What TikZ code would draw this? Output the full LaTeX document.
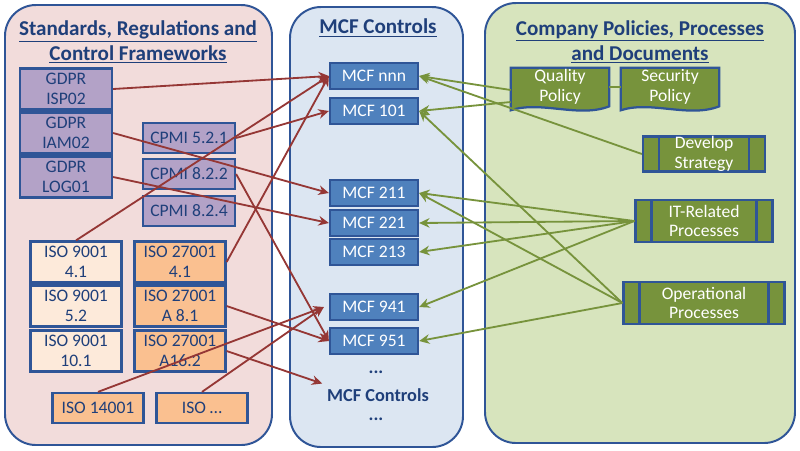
\documentclass[tikz,border=0pt]{standalone}
\usepackage{fontspec}
\setmainfont{Carlito}
\usetikzlibrary{arrows.meta,positioning}
\definecolor{panelline}{HTML}{2F5597}
\definecolor{titleblue}{HTML}{1F3F7A}
\definecolor{redline}{HTML}{953735}
\definecolor{greenfill}{HTML}{77933C}
\tikzstyle{panel}=[draw=panelline, line width=1.4pt, rounded corners=22pt]
\tikzstyle{title}=[font=\bfseries\fontsize{15}{18}\selectfont, text=titleblue, align=center]
\tikzstyle{box}=[draw=panelline, line width=1.6pt, align=center, inner sep=0pt, font=\fontsize{12.5}{14}\selectfont, text=titleblue]
\tikzstyle{gdpr}=[box, fill={rgb,255:red,179;green,162;blue,199}, minimum width=92*0.025cm, minimum height=41*0.025cm]
\tikzstyle{cpmi}=[box, fill={rgb,255:red,179;green,162;blue,199}, minimum width=92*0.025cm, minimum height=30*0.025cm]
\tikzstyle{isoA}=[box, fill={rgb,255:red,253;green,234;blue,218}, minimum width=91*0.025cm, minimum height=41*0.025cm]
\tikzstyle{isoB}=[box, fill={rgb,255:red,250;green,192;blue,144}, minimum width=91*0.025cm, minimum height=41*0.025cm]
\tikzstyle{mcf}=[box, fill={rgb,255:red,79;green,129;blue,189}, text=white, minimum width=88*0.025cm, minimum height=26*0.025cm]
\tikzstyle{doc}=[align=center, inner sep=0pt, text=white, font=\fontsize{12.5}{14}\selectfont, minimum width=98*0.025cm, minimum height=38*0.025cm]
\tikzstyle{process}=[box, fill=greenfill, text=white, path picture={
    \draw[panelline, line width=1.6pt] ([xshift=0.4cm]path picture bounding box.north west) -- ([xshift=0.4cm]path picture bounding box.south west);
    \draw[panelline, line width=1.6pt] ([xshift=-0.4cm]path picture bounding box.north east) -- ([xshift=-0.4cm]path picture bounding box.south east);}]
\tikzstyle{redArrow}=[redline, line width=1.3pt, -{Stealth[length=2.6mm,width=2.4mm,open]}]
\tikzstyle{greenArrow}=[greenfill, line width=1.3pt, -{Stealth[length=2.6mm,width=2.4mm,open]}]

\begin{document}
\begin{tikzpicture}[x=0.025cm, y=-0.025cm]
    \useasboundingbox (0,0) rectangle (800,450);
    % panels
    \draw[panel, fill={rgb,255:red,242;green,220;blue,219}] (5,5) rectangle (272,445);
    \draw[panel, fill={rgb,255:red,220;green,230;blue,242}] (290,7) rectangle (463,447);
    \draw[panel, fill={rgb,255:red,215;green,228;blue,189}] (485,3) rectangle (795,443);
    \node[title] (t1) at (138,42) {\underline{Standards, Regulations and}\\\underline{Control Frameworks}};
    \node[title] (t2) at (378,28) {\underline{MCF Controls}};
    \node[title] (t3) at (640,42) {\underline{Company Policies, Processes}\\\underline{and Documents}};

    % standards
    \node[gdpr] (isp) at (66,89) {GDPR\\ISP02};
    \node[gdpr] (iam) at (66,133) {GDPR\\IAM02};
    \node[gdpr] (log) at (66,177) {GDPR\\LOG01};
    \node[cpmi] (c521) at (189,138) {CPMI 5.2.1};
    \node[cpmi] (c822) at (189,174) {CPMI 8.2.2};
    \node[cpmi] (c824) at (189,211) {CPMI 8.2.4};
    \node[isoA] (q41) at (76,262) {ISO 9001\\4.1};
    \node[isoA] (q52) at (76,306) {ISO 9001\\5.2};
    \node[isoA] (q101) at (76,351) {ISO 9001\\10.1};
    \node[isoB] (s41) at (180,262) {ISO 27001\\4.1};
    \node[isoB] (s81) at (180,306) {ISO 27001\\A 8.1};
    \node[isoB] (s162) at (180,351) {ISO 27001\\A16.2};
    \node[isoB, minimum height=30*0.025cm] (e14) at (98,408) {ISO 14001};
    \node[isoB, minimum height=30*0.025cm] (eiso) at (202,408) {ISO \dots};

    % controls
    \node[mcf] (mnnn) at (374,76) {MCF nnn};
    \node[mcf] (m101) at (374,111) {MCF 101};
    \node[mcf] (m211) at (374,193) {MCF 211};
    \node[mcf] (m221) at (374,223) {MCF 221};
    \node[mcf] (m213) at (374,252) {MCF 213};
    \node[mcf] (m941) at (374,307) {MCF 941};
    \node[mcf] (m951) at (374,341) {MCF 951};
    \node[font=\bfseries\fontsize{13}{15}\selectfont, text=titleblue] (d1) at (376,372) {...};
    \node[font=\bfseries\fontsize{13}{15}\selectfont, text=titleblue] (mrest) at (378,395) {MCF Controls};
    \node[font=\bfseries\fontsize{13}{15}\selectfont, text=titleblue] (d2) at (376,419) {...};

    % documents and processes
    \node[doc] (qpol) at (560,87) {};
    \node[doc] (spol) at (670,87) {};
    \foreach \n in {qpol,spol}
        \draw[panelline, line width=1.6pt, fill=greenfill] (\n.north west) -- (\n.north east) -- (\n.south east)
            .. controls ([xshift=-30*0.025cm, yshift=-12*0.025cm]\n.south east) and ([xshift=30*0.025cm, yshift=6*0.025cm]\n.south west) .. ([yshift=-4*0.025cm]\n.south west) -- cycle;
    \node[doc] at (qpol) {Quality\\Policy};
    \node[doc] at (spol) {Security\\Policy};
    \draw[greenfill, line width=1.3pt] (qpol) -- (spol);
    \node[process, minimum width=122*0.025cm, minimum height=35*0.025cm] (dev) at (704,154) {Develop\\Strategy};
    \node[process, minimum width=137*0.025cm, minimum height=42*0.025cm] (itp) at (704,221) {IT-Related\\Processes};
    \node[process, minimum width=161*0.025cm, minimum height=42*0.025cm] (opp) at (704,303) {Operational\\Processes};

    % red mappings
    \draw[redArrow] (isp.east) -- (mnnn.west);
    \draw[redArrow] (iam.east) -- (m211.west);
    \draw[redArrow] (log.east) -- (m221.west);
    \draw[redArrow] (q41.north) -- (mnnn.west);
    \draw[redArrow] (c521.east) -- (m101.west);
    \draw[redArrow] (c822.east) -- (m951.west);
    \draw[redArrow] (s41.east) -- (mnnn.west);
    \draw[redArrow] (s81.east) -- (m951.west);
    \draw[redArrow] (s162.east) -- (mrest.north west);
    \draw[redArrow] (e14.north) -- ([xshift=-5*0.025cm]m941.west);
    \draw[redArrow] (eiso.north) -- ([xshift=-5*0.025cm]m941.west);

    % green mappings
    \draw[greenArrow] ([yshift=-3*0.025cm]qpol.west) -- (mnnn.east);
    \draw[greenArrow] ([yshift=-15*0.025cm]qpol.west) -- (m101.east);
    \draw[greenArrow] (dev.west) -- (mnnn.east);
    \foreach \m in {m211,m221,m213,m941}
        \draw[greenArrow] (itp.west) -- (\m.east);
    \foreach \m in {m101,m211,m951}
        \draw[greenArrow] (opp.west) -- (\m.east);
\end{tikzpicture}
\end{document}
